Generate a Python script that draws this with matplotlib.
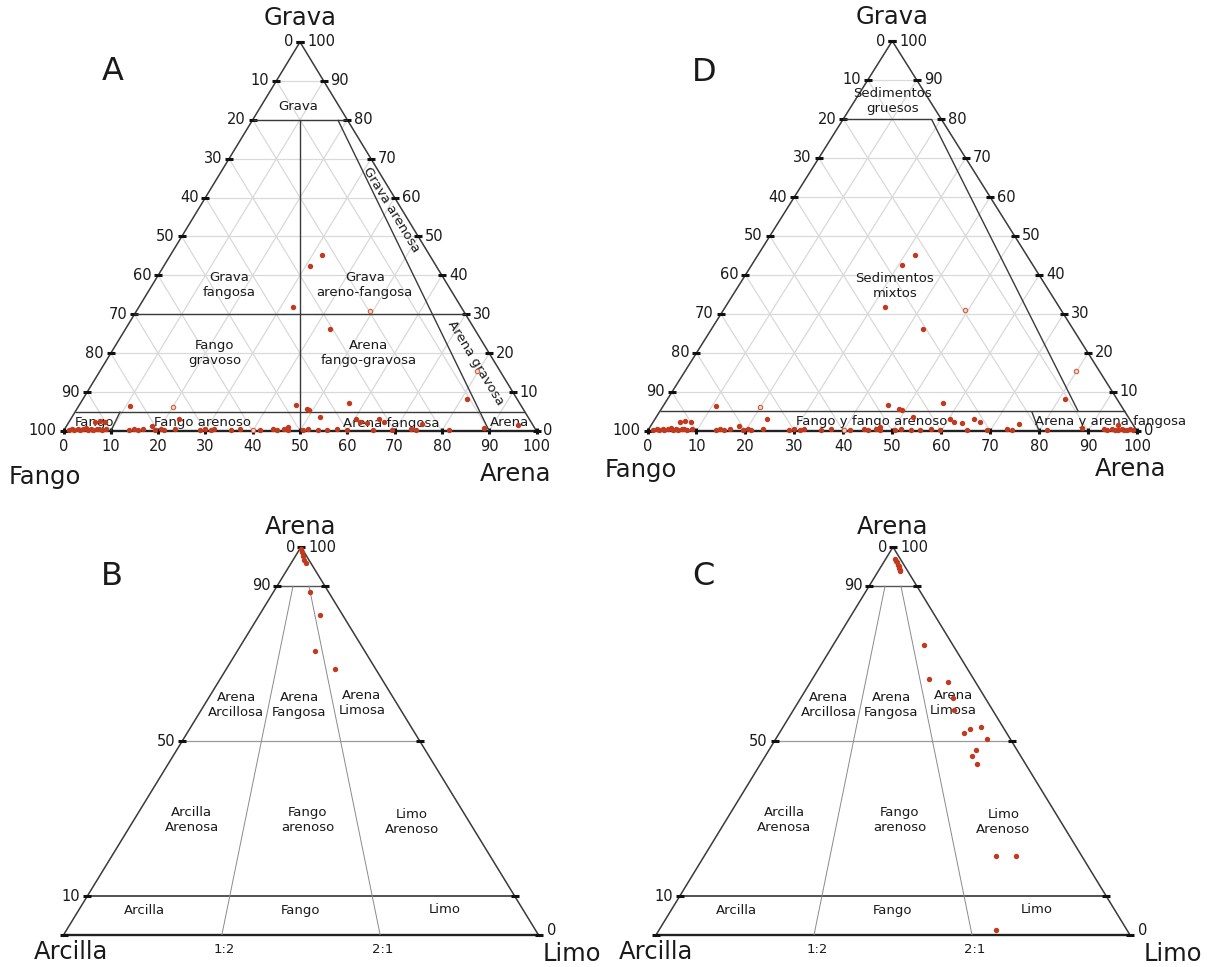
import numpy as np
import matplotlib.pyplot as plt

plt.rcParams["font.family"] = ["DejaVu Sans"]

W, H = 1207, 967
ROJO = "#c23a1e"
GRIS_REJ = "#d9d9d9"
LINEA = "#3a3a3a"
TXT = "#1a1a1a"

# -------------------- datos (porcentajes) --------------------
# A y D: Grava - Arena - Fango (fango = 100 - arena - grava)
arena_g = [32.0, 30.8, 32.6, 43.2, 10.8, 45.9, 48.6, 49.3, 56.7, 52.4, 81.3, 65.2,
           61.5, 88.5, 60.2, 63.1, 66.7, 74.9, 22.8, 18.0, 5.4, 6.4, 7.6, 95.4, 47.0,
           1.0, 1.6, 2.2, 2.8, 3.3, 3.9, 4.4, 5.0, 5.6, 6.1, 6.7, 7.3, 7.9, 8.8,
           13.8, 14.6, 15.6, 16.6, 19.3, 20.3, 21.1, 23.4, 28.7, 29.7, 31.1, 31.7,
           35.2, 37.2, 41.3, 44.0, 45.0, 46.4, 47.4, 50.5, 51.5, 53.6, 55.6, 57.7,
           59.7, 65.2, 69.3, 73.3, 74.4, 81.5]
grava_g = [45.2, 42.5, 31.8, 26.1, 6.4, 6.6, 5.6, 5.4, 7.3, 3.7, 8.1, 3.0,
           2.3, 0.7, 3.1, 2.1, 2.3, 1.8, 3.1, 1.4, 2.4, 2.6, 2.4, 1.5, 1.0,
           0.3, 0.5, 0.2, 0.6, 0.3, 0.4, 0.8, 0.3, 0.5, 0.2, 0.6, 0.4, 0.3, 0.5,
           0.3, 0.6, 0.2, 0.4, 0.3, 0.5, 0.2, 0.4, 0.3, 0.5, 0.2, 0.4,
           0.3, 0.4, 0.3, 0.4, 0.2, 0.5, 0.3, 0.2, 0.4, 0.3, 0.2, 0.4,
           0.3, 0.3, 0.2, 0.4, 0.3, 0.2]
# puntos huecos (tenues)
arena_hueco = [49.4, 20.0, 79.7, 39.9]
grava_hueco = [30.9, 6.1, 15.5, 0.3]
# muestras de la esquina de arena que solo aparecen en D
arena_g_d = [93.0, 93.8, 94.6, 95.3, 96.0, 96.6, 97.2, 97.8, 98.4, 99.0]
grava_g_d = [0.4, 0.2, 0.5, 0.3, 0.2, 0.6, 0.3, 0.2, 0.4, 0.2]

# B y C: Arena - Limo - Arcilla (arcilla = 100 - arena - limo)
arena_b = [99.5, 98.7, 97.6, 96.6, 95.9, 88.4, 82.6, 73.2, 68.6]
limo_b = [0.3, 0.9, 1.6, 2.3, 3.1, 7.6, 12.8, 16.3, 22.8]
arena_c = [97.0, 96.5, 96.1, 95.3, 95.0, 94.6, 94.2, 93.8, 74.8, 66.0, 65.2, 61.2,
           57.9, 52.1, 53.0, 53.5, 50.6, 47.6, 46.1, 44.2, 20.3, 20.3, 1.3]
limo_c = [2.0, 2.4, 2.8, 3.4, 3.7, 4.0, 4.3, 4.6, 19.1, 24.7, 29.0, 32.1,
          33.9, 38.9, 39.8, 41.9, 44.5, 43.7, 43.6, 45.7, 61.5, 65.8, 71.0]

escala = list(range(0, 101, 10))

zonas_a = ["Grava", "Grava\nfangosa", "Grava\nareno-fangosa", "Fango\ngravoso",
           "Arena\nfango-gravosa", "Fango", "Fango arenoso", "Arena fangosa", "Arena"]
zonas_d = ["Sedimentos\ngruesos", "Sedimentos\nmixtos", "Fango y fango arenoso",
           "Arena y arena fangosa"]
zonas_bc = ["Arena\nArcillosa", "Arena\nFangosa", "Arena\nLimosa", "Arcilla\nArenosa",
            "Fango\narenoso", "Limo\nArenoso", "Arcilla", "Fango", "Limo"]


def tern(base, cima):
    base = np.asarray(base, float) / 100
    cima = np.asarray(cima, float) / 100
    return base + cima / 2, cima


fig = plt.figure(figsize=(W / 100, H / 100), dpi=100)


def panel(x0, y0, w, h):
    ax = fig.add_axes([x0 / W, 1 - y0 / H, w / W, h / H])
    ax.set_xlim(0, 1)
    ax.set_ylim(0, 1)
    ax.axis("off")
    return ax


def seg(ax, p, q, color=LINEA, lw=1.0):
    ax.plot([p[0], q[0]], [p[1], q[1]], color=color, lw=lw, clip_on=False,
            solid_capstyle="butt")


def marco(ax):
    seg(ax, (0, 0), (0.5, 1), lw=1.1)
    seg(ax, (0.5, 1), (1, 0), lw=1.1)
    seg(ax, (0, 0), (1, 0), color="#222222", lw=1.7)


def marca(ax, x, y, m="_", ms=6):
    ax.plot([x], [y], marker=m, ms=ms, mew=2.2, color="#111111", ls="none",
            clip_on=False)


def etiqueta(ax, x, y, s, dx, dy, ha, va, size=10.5):
    ax.annotate(s, (x, y), xytext=(dx, dy), textcoords="offset points",
                ha=ha, va=va, fontsize=size, color=TXT)


def puntos(ax, base, cima, hueco=False):
    x, y = tern(base, cima)
    if hueco:
        ax.scatter(x, y, s=10, facecolor="#f4d6cc", edgecolor="#d0603f", lw=0.8,
                   zorder=5, clip_on=False)
    else:
        ax.scatter(x, y, s=15, color=ROJO, lw=0, zorder=6, clip_on=False)


def panel_grava(x0, y0, w, h, letra, pos_fango, pos_arena):
    ax = panel(x0, y0, w, h)
    for v in escala[1:-1]:
        f = v / 100
        seg(ax, (f / 2, f), (1 - f / 2, f), color=GRIS_REJ, lw=0.9)
        seg(ax, (f, 0), (f + (1 - f) / 2, 1 - f), color=GRIS_REJ, lw=0.9)
        seg(ax, (1 - f, 0), ((1 - f) / 2, 1 - f), color=GRIS_REJ, lw=0.9)
    marco(ax)
    for v in escala:
        f = v / 100
        marca(ax, f / 2, f)
        etiqueta(ax, f / 2, f, str(100 - v), -5, 0, "right", "center")
        marca(ax, 1 - f / 2, f)
        etiqueta(ax, 1 - f / 2, f, str(v), 5, 0, "left", "center")
        marca(ax, f, 0, "|", 5)
        etiqueta(ax, f, 0, str(v), 0, -5.5, "center", "top")
    ax.text(0.5, 1.062, "Grava", ha="center", va="center", fontsize=17.5, color=TXT)
    ax.text(*pos_fango, "Fango", ha="center", va="center", fontsize=17.5, color=TXT)
    ax.text(*pos_arena, "Arena", ha="center", va="center", fontsize=17.5, color=TXT)
    ax.text(letra[1], letra[2], letra[0], ha="center", va="center", fontsize=23,
            color=TXT)
    return ax


def panel_arena(x0, y0, w, h, letra, arena, limo, x_arcilla, x_limo):
    ax = panel(x0, y0, w, h)
    marco(ax)
    seg(ax, (0.45, 0.9), (0.55, 0.9), color="#555555", lw=1.0)
    seg(ax, (0.25, 0.5), (0.75, 0.5), color="#9a9a9a", lw=0.9)
    seg(ax, (0.05, 0.1), (0.95, 0.1), color="#444444", lw=1.3)
    for r in (1 / 3, 2 / 3):
        seg(ax, (r, 0), (0.45 + 0.1 * r, 0.9), color="#8a8a8a", lw=0.7)
    for x, y in [(0.5, 1), (0.45, 0.9), (0.55, 0.9), (0.25, 0.5), (0.75, 0.5),
                 (0.05, 0.1), (0.95, 0.1), (0, 0), (1, 0)]:
        marca(ax, x, y)
    etiqueta(ax, 0.5, 1, "0", -4, 0, "right", "center")
    etiqueta(ax, 0.5, 1, "100", 5, 0, "left", "center")
    etiqueta(ax, 0.45, 0.9, "90", -5, 0, "right", "center")
    etiqueta(ax, 0.25, 0.5, "50", -5, 0, "right", "center")
    etiqueta(ax, 0.05, 0.1, "10", -5, 0, "right", "center")
    etiqueta(ax, 1, 0, "0", 6, 3, "left", "center")
    etiqueta(ax, 1 / 3, 0, "1:2", 2, -6, "center", "top", size=9.5)
    etiqueta(ax, 2 / 3, 0, "2:1", 2, -6, "center", "top", size=9.5)
    pos = [(0.364, 0.594), (0.496, 0.594), (0.628, 0.597), (0.270, 0.296),
           (0.514, 0.296), (0.733, 0.292), (0.170, 0.062), (0.500, 0.064),
           (0.803, 0.067)]
    for s, (x, y) in zip(zonas_bc, pos):
        ax.text(x, y, s, ha="center", va="center", fontsize=9.5, color=TXT)
    ax.text(0.5, 1.052, "Arena", ha="center", va="center", fontsize=17.5, color=TXT)
    ax.text(x_arcilla, -0.045, "Arcilla", ha="center", va="center", fontsize=17.5,
            color=TXT)
    ax.text(x_limo, -0.048, "Limo", ha="center", va="center", fontsize=17.5, color=TXT)
    ax.text(0.101, 0.925, letra, ha="center", va="center", fontsize=23, color=TXT)
    puntos(ax, limo, arena)
    return ax


# -------------------- A --------------------
wa, ha_ = 473, 389
ax = panel_grava(63.5, 431, wa, ha_, ("A", 0.105, 0.923), (-0.039, -0.118),
                 (0.955, -0.11))
rot = np.degrees(np.arctan2(-ha_, wa / 2))
seg(ax, (0.4, 0.8), (0.6, 0.8))
seg(ax, (0.15, 0.3), (0.85, 0.3))
seg(ax, (0.025, 0.05), (0.975, 0.05))
seg(ax, (0.5, 0.8), (0.5, 0))
seg(ax, (0.58, 0.8), (0.9, 0))
seg(ax, (0.1, 0), (0.12, 0.05))
pos = [(0.496, 0.835), (0.350, 0.375), (0.637, 0.375), (0.319, 0.2), (0.645, 0.2),
       (0.065, 0.023), (0.293, 0.023), (0.693, 0.020), (0.944, 0.023)]
for s, (x, y) in zip(zonas_a, pos):
    ax.text(x, y, s, ha="center", va="center", fontsize=9.5, color=TXT)
ax.text(0.693, 0.568, "Grava arenosa", rotation=rot, rotation_mode="anchor",
        ha="center", va="center", fontsize=9.5, color=TXT)
ax.text(0.872, 0.174, "Arena gravosa", rotation=rot, rotation_mode="anchor",
        ha="center", va="center", fontsize=9.5, color=TXT)
puntos(ax, arena_hueco, grava_hueco, hueco=True)
puntos(ax, arena_g, grava_g)

# -------------------- D --------------------
ax = panel_grava(647.5, 431, 489.5, 390, ("D", 0.115, 0.918), (-0.013, -0.1),
                 (0.986, -0.097))
seg(ax, (0.4, 0.8), (0.58, 0.8))
seg(ax, (0.58, 0.8), (0.88, 0.05))
seg(ax, (0.025, 0.05), (0.975, 0.05))
seg(ax, (0.8, 0), (0.785, 0.05))
pos = [(0.501, 0.845), (0.505, 0.371), (0.457, 0.024), (0.945, 0.024)]
for s, (x, y) in zip(zonas_d, pos):
    ax.text(x, y, s, ha="center", va="center", fontsize=9.5, color=TXT)
puntos(ax, arena_hueco, grava_hueco, hueco=True)
puntos(ax, arena_g, grava_g)
puntos(ax, arena_g_d, grava_g_d)

# -------------------- B y C --------------------
panel_arena(63.5, 935, 475, 388, "B", arena_b, limo_b, 0.015, 1.07)
panel_arena(656, 935, 474, 388, "C", arena_c, limo_c, 0.0, 1.09)

fig.savefig("out.png", dpi=100)
